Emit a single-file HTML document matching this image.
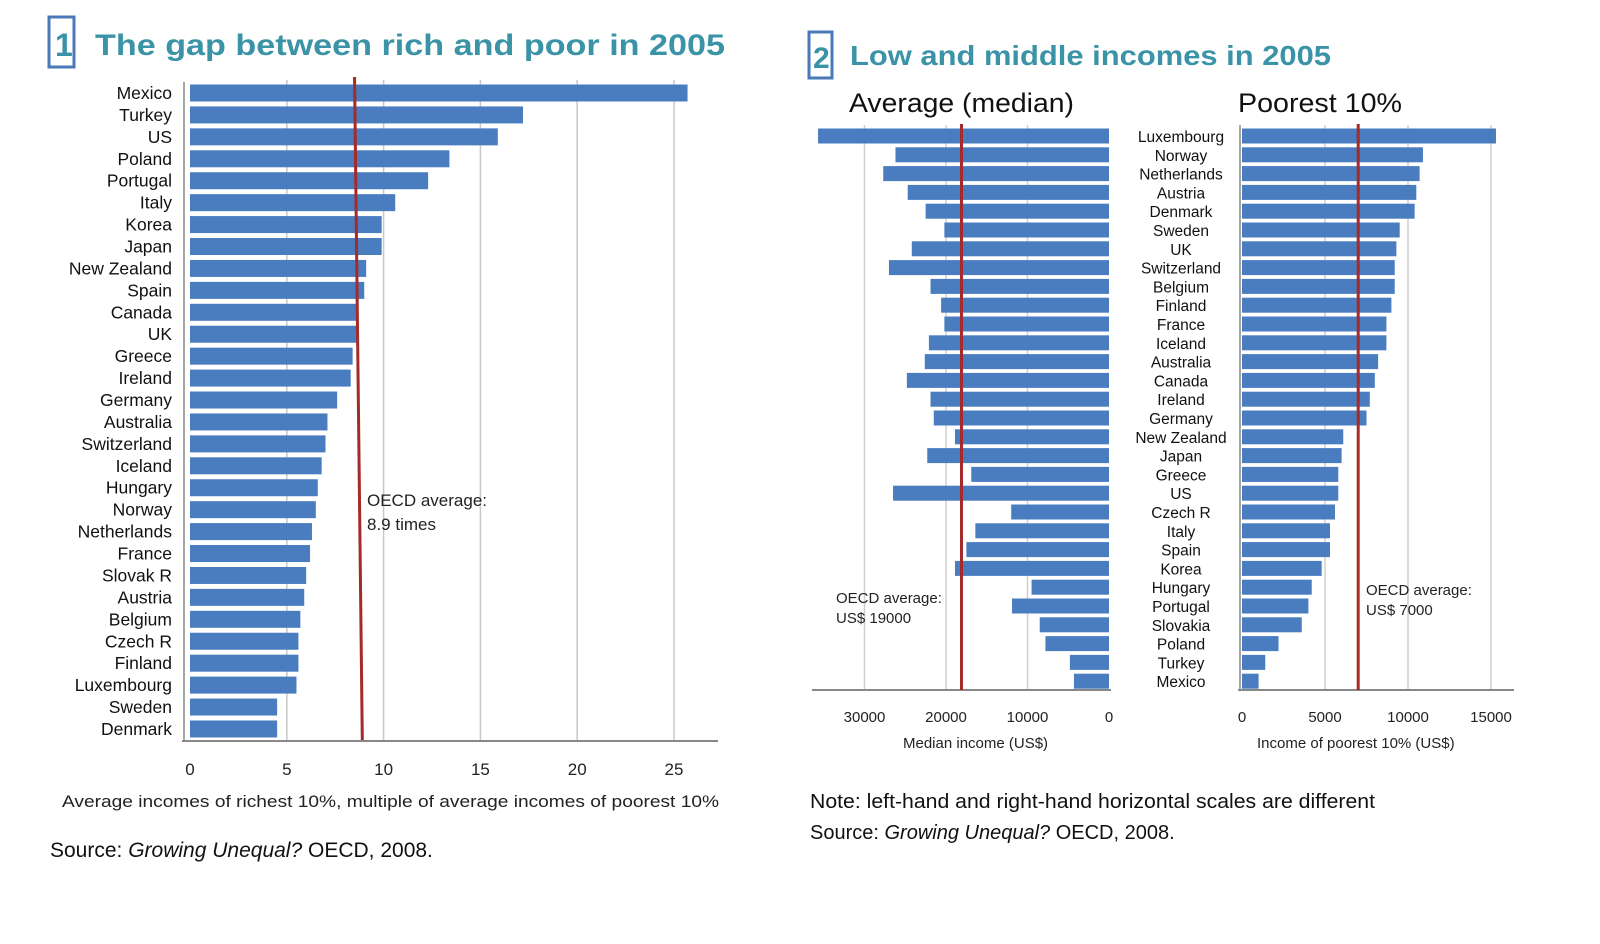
<!DOCTYPE html>
<html><head><meta charset="utf-8"><style>
html,body{margin:0;padding:0;background:#fff;}
svg{display:block;font-family:"Liberation Sans",sans-serif;}
</style></head><body>
<svg id="svg" width="1600" height="944" viewBox="0 0 1600 944" xmlns="http://www.w3.org/2000/svg">
<g>
<rect x="49" y="17" width="25" height="50" fill="none" stroke="#4a78b8" stroke-width="3"/>
<text x="55" y="56" font-size="32" fill="#3a93a6" font-weight="bold">1</text>
<text x="95" y="55" font-size="30" fill="#3a93a6" font-weight="bold" textLength="630" lengthAdjust="spacingAndGlyphs">The gap between rich and poor in 2005</text>
</g>
<g>
<rect x="809" y="32" width="23" height="46" fill="none" stroke="#4a78b8" stroke-width="3"/>
<text x="813" y="68" font-size="30" fill="#3a93a6" font-weight="bold">2</text>
<text x="850" y="65" font-size="28" fill="#3a93a6" font-weight="bold" textLength="481" lengthAdjust="spacingAndGlyphs">Low and middle incomes in 2005</text>
</g>
<text x="849" y="112" font-size="27" fill="#111" textLength="225" lengthAdjust="spacingAndGlyphs">Average (median)</text>
<text x="1238" y="112" font-size="27" fill="#111" textLength="164" lengthAdjust="spacingAndGlyphs">Poorest 10%</text>
<g id="c1"></g>
<g id="c2"></g>
<g id="c3"></g>
<text x="62" y="807" font-size="17" fill="#222" textLength="657" lengthAdjust="spacingAndGlyphs">Average incomes of richest 10%, multiple of average incomes of poorest 10%</text>
<text x="50" y="857" font-size="21" fill="#111">Source: <tspan font-style="italic">Growing Unequal?</tspan>  OECD, 2008.</text>
<text x="903" y="748" font-size="15" fill="#222">Median income (US$)</text>
<text x="1257" y="748" font-size="15" fill="#222">Income of poorest 10% (US$)</text>
<text x="810" y="808" font-size="20" fill="#111" textLength="565" lengthAdjust="spacingAndGlyphs">Note: left-hand and right-hand horizontal scales are different</text>
<text x="810" y="839" font-size="20" fill="#111">Source: <tspan font-style="italic">Growing Unequal?</tspan>  OECD, 2008.</text>
</svg>
<script>
const gapCountries=["Mexico","Turkey","US","Poland","Portugal","Italy","Korea","Japan","New Zealand","Spain","Canada","UK","Greece","Ireland","Germany","Australia","Switzerland","Iceland","Hungary","Norway","Netherlands","France","Slovak R","Austria","Belgium","Czech R","Finland","Luxembourg","Sweden","Denmark"];
const gapValues=[25.7,17.2,15.9,13.4,12.3,10.6,9.9,9.9,9.1,9.0,8.7,8.6,8.4,8.3,7.6,7.1,7.0,6.8,6.6,6.5,6.3,6.2,6.0,5.9,5.7,5.6,5.6,5.5,4.5,4.5];
const gapTicks=[0,5,10,15,20,25];
const gapAvgTop=8.5, gapAvgBottom=8.9;
const incCountries=["Luxembourg","Norway","Netherlands","Austria","Denmark","Sweden","UK","Switzerland","Belgium","Finland","France","Iceland","Australia","Canada","Ireland","Germany","New Zealand","Japan","Greece","US","Czech R","Italy","Spain","Korea","Hungary","Portugal","Slovakia","Poland","Turkey","Mexico"];
const medianValues=[35700,26200,27700,24700,22500,20200,24200,27000,21900,20600,20200,22100,22600,24800,21900,21500,18900,22300,16900,26500,12000,16400,17500,18900,9500,11900,8500,7800,4800,4300];
const medianTicks=[30000,20000,10000,0];
const medianAvg=18100;
const poorValues=[15300,10900,10700,10500,10400,9500,9300,9200,9200,9000,8700,8700,8200,8000,7700,7500,6100,6000,5800,5800,5600,5300,5300,4800,4200,4000,3600,2200,1400,1000];
const poorTicks=[0,5000,10000,15000];
const poorAvg=7000;
const NS="http://www.w3.org/2000/svg";
const BAR="#4a7dbf";
function mk(p,t,a,txt){const e=document.createElementNS(NS,t);for(const k in a)e.setAttribute(k,a[k]);if(txt!=null)e.textContent=txt;p.appendChild(e);return e;}
// chart 1
(function(){
const g=document.getElementById('c1');
const xs=v=>190+v*19.36, ys=i=>93+i*21.93;
gapTicks.forEach(t=>{
 if(t>0){const l=mk(g,'line',{x1:xs(t),x2:xs(t),y1:80,y2:741,stroke:'#c8c8c8','stroke-width':1.5});
 
 }
 const tx=mk(g,'text',{x:xs(t),y:775,'font-size':17,'text-anchor':'middle',fill:'#222'},t);
 
 
});
gapCountries.forEach((c,i)=>{
 const r=mk(g,'rect',{x:xs(0),y:ys(i)-8.5,width:xs(gapValues[i])-xs(0),height:17,fill:BAR});
 
 
 const t=mk(g,'text',{x:172,y:ys(i)+6,'font-size':17.5,'text-anchor':'end',fill:'#111'},c);
 
 
});
const ax=mk(g,'line',{x1:182,x2:718,y1:741,y2:741,stroke:'#888','stroke-width':2});


const ay=mk(g,'line',{x1:184,x2:184,y1:82,y2:741,stroke:'#888','stroke-width':1.5});


const av=mk(g,'line',{x1:xs(gapAvgTop),x2:xs(gapAvgBottom),y1:77,y2:740,stroke:'#a52a2a','stroke-width':3});


const a1=mk(g,'text',{x:367,y:506,'font-size':17,fill:'#222'},'OECD average:');


const a2=mk(g,'text',{x:367,y:530,'font-size':17,fill:'#222'},'8.9 times');


})();
const ys2=i=>136+i*18.8;
// chart 2 (median, reversed)
(function(){
const g=document.getElementById('c2');
const xs=v=>1109-v*0.00815;
medianTicks.forEach(t=>{
 if(t>0){const l=mk(g,'line',{x1:xs(t),x2:xs(t),y1:125,y2:690,stroke:'#cfcfcf','stroke-width':1.5});
 
 }
 const tx=mk(g,'text',{x:xs(t),y:722,'font-size':15,'text-anchor':'middle',fill:'#222'},t);
 
 
});
incCountries.forEach((c,i)=>{
 const r=mk(g,'rect',{x:xs(medianValues[i]),y:ys2(i)-7.5,width:xs(0)-xs(medianValues[i]),height:15,fill:BAR});
 
 
 const t=mk(g,'text',{x:1181,y:ys2(i)+6,'font-size':15.5,'text-anchor':'middle',fill:'#111'},c);
 
 
});
const ax=mk(g,'line',{x1:812,x2:1111,y1:690,y2:690,stroke:'#888','stroke-width':2});


const av=mk(g,'line',{x1:xs(medianAvg),x2:xs(medianAvg),y1:124,y2:690,stroke:'#a52a2a','stroke-width':3});


const a1=mk(g,'text',{x:836,y:603,'font-size':15,fill:'#222'},'OECD average:');


const a2=mk(g,'text',{x:836,y:623,'font-size':15,fill:'#222'},'US$ 19000');


})();
// chart 3 (poorest)
(function(){
const g=document.getElementById('c3');
const xs=v=>1242+v*0.0166;
poorTicks.forEach(t=>{
 if(t>0){const l=mk(g,'line',{x1:xs(t),x2:xs(t),y1:125,y2:690,stroke:'#cfcfcf','stroke-width':1.5});
 
 }
 const tx=mk(g,'text',{x:xs(t),y:722,'font-size':15,'text-anchor':'middle',fill:'#222'},t);
 
 
});
incCountries.forEach((c,i)=>{
 const r=mk(g,'rect',{x:xs(0),y:ys2(i)-7.5,width:xs(poorValues[i])-xs(0),height:15,fill:BAR});
 
 
});
const ax=mk(g,'line',{x1:1238,x2:1514,y1:690,y2:690,stroke:'#888','stroke-width':2});


const ay=mk(g,'line',{x1:1240,x2:1240,y1:125,y2:690,stroke:'#888','stroke-width':1.5});


const av=mk(g,'line',{x1:xs(poorAvg),x2:xs(poorAvg),y1:124,y2:690,stroke:'#a52a2a','stroke-width':3});


const a1=mk(g,'text',{x:1366,y:595,'font-size':15,fill:'#222'},'OECD average:');


const a2=mk(g,'text',{x:1366,y:615,'font-size':15,fill:'#222'},'US$ 7000');


})();
</script>
</body></html>
